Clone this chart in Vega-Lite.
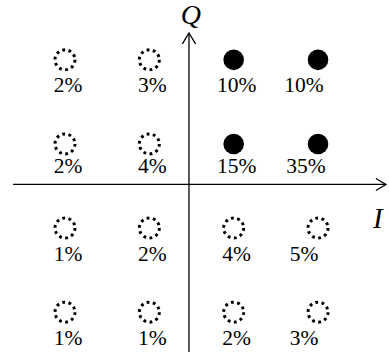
{
  "$schema": "https://vega.github.io/schema/vega-lite/v6.json",
  "width": 389,
  "height": 353,
  "padding": 0,
  "autosize": {"type": "fit", "contains": "padding"},
  "background": "white",
  "config": {"view": {"stroke": null}},
  "datasets": {
    "constellation": [
      {"I": -3, "Q": 3, "p": 0.02, "active": false},
      {"I": -1, "Q": 3, "p": 0.03, "active": false},
      {"I": 1, "Q": 3, "p": 0.10, "active": true},
      {"I": 3, "Q": 3, "p": 0.10, "active": true},
      {"I": -3, "Q": 1, "p": 0.02, "active": false},
      {"I": -1, "Q": 1, "p": 0.04, "active": false},
      {"I": 1, "Q": 1, "p": 0.15, "active": true},
      {"I": 3, "Q": 1, "p": 0.35, "active": true},
      {"I": -3, "Q": -1, "p": 0.01, "active": false},
      {"I": -1, "Q": -1, "p": 0.02, "active": false},
      {"I": 1, "Q": -1, "p": 0.04, "active": false},
      {"I": 3, "Q": -1, "p": 0.05, "active": false},
      {"I": -3, "Q": -3, "p": 0.01, "active": false},
      {"I": -1, "Q": -3, "p": 0.01, "active": false},
      {"I": 1, "Q": -3, "p": 0.02, "active": false},
      {"I": 3, "Q": -3, "p": 0.03, "active": false}
    ],
    "axes": [
      {"axis": "I", "x": -4.23, "y": 0.036, "x2": 4.61, "y2": 0.036},
      {"axis": "Q", "x": -0.06, "y": -3.95, "x2": -0.06, "y2": 3.64}
    ]
  },
  "layer": [
    {
      "data": {"name": "axes"},
      "mark": {"type": "rule", "color": "black", "strokeWidth": 1.3},
      "encoding": {
        "x": {"field": "x", "type": "quantitative", "scale": {"domain": [-4.541, 4.683], "nice": false, "zero": false}, "axis": null},
        "y": {"field": "y", "type": "quantitative", "scale": {"domain": [-3.948, 4.423], "nice": false, "zero": false}, "axis": null},
        "x2": {"field": "x2"},
        "y2": {"field": "y2"}
      }
    },
    {
      "data": {"name": "axes"},
      "transform": [{"filter": "datum.axis === 'I'"}],
      "mark": {"type": "point", "shape": "M-1,-0.6L0,0L-1,0.6", "filled": false, "stroke": "black", "strokeWidth": 1.3, "size": 400, "opacity": 1},
      "encoding": {
        "x": {"field": "x2", "type": "quantitative"},
        "y": {"field": "y2", "type": "quantitative"}
      }
    },
    {
      "data": {"name": "axes"},
      "transform": [{"filter": "datum.axis === 'Q'"}],
      "mark": {"type": "point", "shape": "M-0.6,1L0,0L0.6,1", "filled": false, "stroke": "black", "strokeWidth": 1.3, "size": 484, "opacity": 1},
      "encoding": {
        "x": {"field": "x2", "type": "quantitative"},
        "y": {"field": "y2", "type": "quantitative"}
      }
    },
    {
      "data": {"name": "axes"},
      "transform": [{"filter": "datum.axis === 'I'"}],
      "mark": {"type": "text", "font": "Times New Roman, Liberation Serif, serif", "fontStyle": "italic", "fontSize": 29, "color": "black", "baseline": "alphabetic", "dx": -8, "dy": 44},
      "encoding": {
        "x": {"field": "x2", "type": "quantitative"},
        "y": {"field": "y2", "type": "quantitative"},
        "text": {"field": "axis"}
      }
    },
    {
      "data": {"name": "axes"},
      "transform": [{"filter": "datum.axis === 'Q'"}],
      "mark": {"type": "text", "font": "Times New Roman, Liberation Serif, serif", "fontStyle": "italic", "fontSize": 28, "color": "black", "baseline": "alphabetic", "dx": 2, "dy": -9},
      "encoding": {
        "x": {"field": "x2", "type": "quantitative"},
        "y": {"field": "y2", "type": "quantitative"},
        "text": {"field": "axis"}
      }
    },
    {
      "data": {"name": "constellation"},
      "transform": [{"filter": "datum.active"}],
      "mark": {"type": "point", "shape": "circle", "filled": true, "color": "black", "size": 424, "opacity": 1},
      "encoding": {
        "x": {"field": "I", "type": "quantitative"},
        "y": {"field": "Q", "type": "quantitative"}
      }
    },
    {
      "data": {"name": "constellation"},
      "transform": [{"filter": "!datum.active"}],
      "mark": {"type": "point", "shape": "circle", "filled": false, "stroke": "black", "strokeWidth": 3, "strokeDash": [2.8, 3.5], "size": 400, "opacity": 1},
      "encoding": {
        "x": {"field": "I", "type": "quantitative"},
        "y": {"field": "Q", "type": "quantitative"}
      }
    },
    {
      "data": {"name": "constellation"},
      "transform": [{"filter": "datum.I < 3 && datum.Q !== 1"}],
      "mark": {"type": "text", "font": "Times New Roman, Liberation Serif, serif", "fontSize": 21.5, "color": "black", "baseline": "alphabetic", "dx": 3, "dy": 32.5},
      "encoding": {
        "x": {"field": "I", "type": "quantitative"},
        "y": {"field": "Q", "type": "quantitative"},
        "text": {"field": "p", "type": "quantitative", "format": ".0%"}
      }
    },
    {
      "data": {"name": "constellation"},
      "transform": [{"filter": "datum.I < 3 && datum.Q === 1"}],
      "mark": {"type": "text", "font": "Times New Roman, Liberation Serif, serif", "fontSize": 21.5, "color": "black", "baseline": "alphabetic", "dx": 3, "dy": 29.5},
      "encoding": {
        "x": {"field": "I", "type": "quantitative"},
        "y": {"field": "Q", "type": "quantitative"},
        "text": {"field": "p", "type": "quantitative", "format": ".0%"}
      }
    },
    {
      "data": {"name": "constellation"},
      "transform": [{"filter": "datum.I === 3 && datum.Q !== 1"}],
      "mark": {"type": "text", "font": "Times New Roman, Liberation Serif, serif", "fontSize": 21.5, "color": "black", "baseline": "alphabetic", "dx": -14, "dy": 32.5},
      "encoding": {
        "x": {"field": "I", "type": "quantitative"},
        "y": {"field": "Q", "type": "quantitative"},
        "text": {"field": "p", "type": "quantitative", "format": ".0%"}
      }
    },
    {
      "data": {"name": "constellation"},
      "transform": [{"filter": "datum.I === 3 && datum.Q === 1"}],
      "mark": {"type": "text", "font": "Times New Roman, Liberation Serif, serif", "fontSize": 21.5, "color": "black", "baseline": "alphabetic", "dx": -12, "dy": 29.5},
      "encoding": {
        "x": {"field": "I", "type": "quantitative"},
        "y": {"field": "Q", "type": "quantitative"},
        "text": {"field": "p", "type": "quantitative", "format": ".0%"}
      }
    }
  ]
}
